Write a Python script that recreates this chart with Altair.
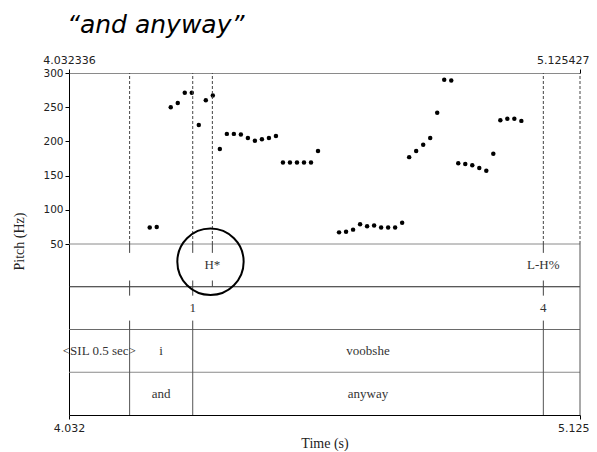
import altair as alt
import pandas as pd

# ---- data ----
t_start = 4.032336
t_end = 5.125427

pitch_time = [4.205, 4.220, 4.250, 4.265, 4.280, 4.295, 4.310, 4.325, 4.340, 4.355,
              4.370, 4.385, 4.400, 4.415, 4.430, 4.445, 4.460, 4.475, 4.490, 4.505,
              4.520, 4.535, 4.550, 4.565, 4.610, 4.625, 4.640, 4.655, 4.670, 4.685,
              4.700, 4.715, 4.730, 4.745, 4.760, 4.775, 4.790, 4.805, 4.820, 4.835,
              4.850, 4.865, 4.880, 4.895, 4.910, 4.925, 4.940, 4.955, 4.970, 4.985,
              5.000]
pitch_hz = [74, 75, 250, 256, 271, 271, 224, 260, 267, 189,
            211, 211, 210, 205, 201, 203, 205, 208, 169, 169,
            169, 169, 169, 186, 67, 68, 71, 79, 76, 77,
            74, 74, 74, 81, 177, 186, 195, 205, 242, 290,
            289, 168, 167, 165, 161, 157, 182, 231, 233, 233,
            230]

word_bounds = [4.162, 4.297, 5.047]
tone_times = [4.339, 5.047]
tone_labels = ["H*", "L-H%"]
break_times = [4.297, 5.047]
break_labels = ["1", "4"]
word_edges = [t_start, 4.162, 4.297, 5.047, t_end]
word_labels = ["<SIL 0.5 sec>", "i", "voobshe", ""]
gloss_labels = ["", "and", "anyway", ""]
y_ticks = [50, 100, 150, 200, 250, 300]

circle_time = [4.335]
circle_y = [24]

# ---- layout helpers (tier bands in the shared y scale) ----
P_BOT, P_TOP = 50, 300
T1_BOT, T2_BOT, T3_BOT, T4_BOT = -12.5, -75, -137.5, -200
TK = 13  # tick length in y units

SERIF = "Liberation Serif"
SANS = "DejaVu Sans"

xs = alt.Scale(domain=[t_start, t_end], nice=False, zero=False)
ys = alt.Scale(domain=[T4_BOT, P_TOP], nice=False, zero=False)

y_axis = alt.Axis(
    values=y_ticks, tickSize=4, domainColor="black", tickColor="black", grid=False,
    labelFont=SANS, labelFontSize=10.5, labelColor="#222", labelPadding=2,
    title="Pitch (Hz)", titleFont=SERIF, titleFontSize=14, titleFontWeight="normal",
    titleColor="#222", titleX=-50, titleY=168, titleAngle=270,
    titleAlign="center", titleBaseline="middle")

# the last time label sits at the right edge of the page: keep it inside
end_align = {"condition": {"test": "datum.value > 5", "value": "right"}, "value": "center"}
end_offset = {"condition": {"test": "datum.value > 5", "value": 9}, "value": 0}


def Y(field):
    return alt.Y(field, scale=ys, axis=y_axis)


pitch_df = pd.DataFrame({"t": pitch_time, "y": pitch_hz})

dotted_df = pd.DataFrame({"t": word_bounds + [tone_times[0], t_end],
                          "y": P_BOT, "y2": P_TOP})

hl_df = pd.DataFrame({"y": [P_BOT, T1_BOT, T2_BOT, T3_BOT],
                      "c": ["#8a8a8a", "#222222", "#6a6a6a", "#8a8a8a"]})

tick_rows = []
for t in word_bounds:
    tick_rows += [(t, P_BOT, P_BOT - TK), (t, T1_BOT + TK * 0.7, T1_BOT - TK),
                  (t, T2_BOT + TK, T2_BOT)]
tick_rows += [(tone_times[0], P_BOT, P_BOT - TK), (tone_times[0], T1_BOT + TK * 0.7, T1_BOT)]
ticks_df = pd.DataFrame(tick_rows, columns=["t", "y", "y2"])

solid_df = pd.DataFrame({"t": word_bounds + [t_end],
                         "y": [T2_BOT] * len(word_bounds) + [P_BOT],
                         "y2": [T4_BOT] * (len(word_bounds) + 1)})

tone_df = pd.DataFrame({"t": tone_times, "lab": tone_labels, "y": (P_BOT + T1_BOT) / 2})
break_df = pd.DataFrame({"t": break_times, "lab": break_labels, "y": (T1_BOT + T2_BOT) / 2})
mids = [(a + b) / 2 for a, b in zip(word_edges[:-1], word_edges[1:])]
word_df = pd.DataFrame({"t": mids, "lab": word_labels, "y": (T2_BOT + T3_BOT) / 2})
gloss_df = pd.DataFrame({"t": mids, "lab": gloss_labels, "y": (T3_BOT + T4_BOT) / 2})
circ_df = pd.DataFrame({"t": circle_time, "y": circle_y})

points = alt.Chart(pitch_df).mark_circle(size=20, color="black", opacity=1).encode(
    x=alt.X("t:Q", scale=xs, axis=alt.Axis(
        orient="bottom", values=[t_start, t_end], format=".3f", title="Time (s)",
        tickSize=4, domainColor="black", tickColor="black", labelFlush=False,
        labelOverlap=False, labelBound=False, labelFont=SANS, labelFontSize=11,
        labelColor="#222", labelPadding=3, grid=False,
        labelAlign=end_align, labelOffset=end_offset,
        titleFont=SERIF, titleFontSize=14, titleFontWeight="normal", titleColor="#222",
        titleX=255.5, titleY=28, titleAlign="center", titleBaseline="middle")),
    y=Y("y:Q"),
)

dotted = alt.Chart(dotted_df).mark_rule(color="#444", strokeDash=[3, 2], strokeWidth=1).encode(
    x=alt.X("t:Q", scale=xs, axis=alt.Axis(
        orient="top", values=[t_start, t_end], format=".6f", title=None,
        tickSize=4, domainColor="#8a8a8a", tickColor="black", labelFlush=False,
        labelOverlap=False, labelBound=False, labelFont=SANS, labelFontSize=11,
        labelColor="#222", labelPadding=4, grid=False,
        labelAlign=end_align, labelOffset=end_offset)),
    y=Y("y:Q"), y2="y2:Q",
)

hlines = alt.Chart(hl_df).mark_rule(strokeWidth=1).encode(
    y=Y("y:Q"),
    color=alt.Color("c:N", scale=None),
)

ticks = alt.Chart(ticks_df).mark_rule(color="#444", strokeWidth=1).encode(
    x=alt.X("t:Q", scale=xs, axis=None),
    y=Y("y:Q"), y2="y2:Q",
)

solid = alt.Chart(solid_df).mark_rule(color="#555", strokeWidth=1).encode(
    x=alt.X("t:Q", scale=xs, axis=None),
    y=Y("y:Q"), y2="y2:Q",
)


def tier_text(df):
    return alt.Chart(df).mark_text(font=SERIF, fontSize=13, color="#333",
                                   baseline="middle", align="center").encode(
        x=alt.X("t:Q", scale=xs, axis=None),
        y=Y("y:Q"),
        text="lab:N",
    )


circle = alt.Chart(circ_df).mark_point(shape="circle", size=4400, filled=False,
                                       color="black", strokeWidth=2, opacity=1).encode(
    x=alt.X("t:Q", scale=xs, axis=None),
    y=Y("y:Q"),
)

chart = alt.layer(
    points, hlines, dotted, ticks, solid,
    tier_text(tone_df), tier_text(break_df), tier_text(word_df), tier_text(gloss_df),
    circle,
).resolve_axis(x="independent", y="shared").properties(
    width=511, height=342,
    autosize=alt.AutoSizeParams(type="none"),
    padding={"left": 61, "top": 65, "right": 9, "bottom": 36},
    title=alt.TitleParams(text="\u201cand anyway\u201d", font="DejaVu Sans", fontSize=25,
                          fontStyle="italic", fontWeight="normal", color="black",
                          anchor="start", frame="group", dx=-2, dy=5, offset=1,
                          baseline="alphabetic"),
).configure_view(stroke=None)

chart.save("out.html", embed_options={"renderer": "svg", "actions": False})
